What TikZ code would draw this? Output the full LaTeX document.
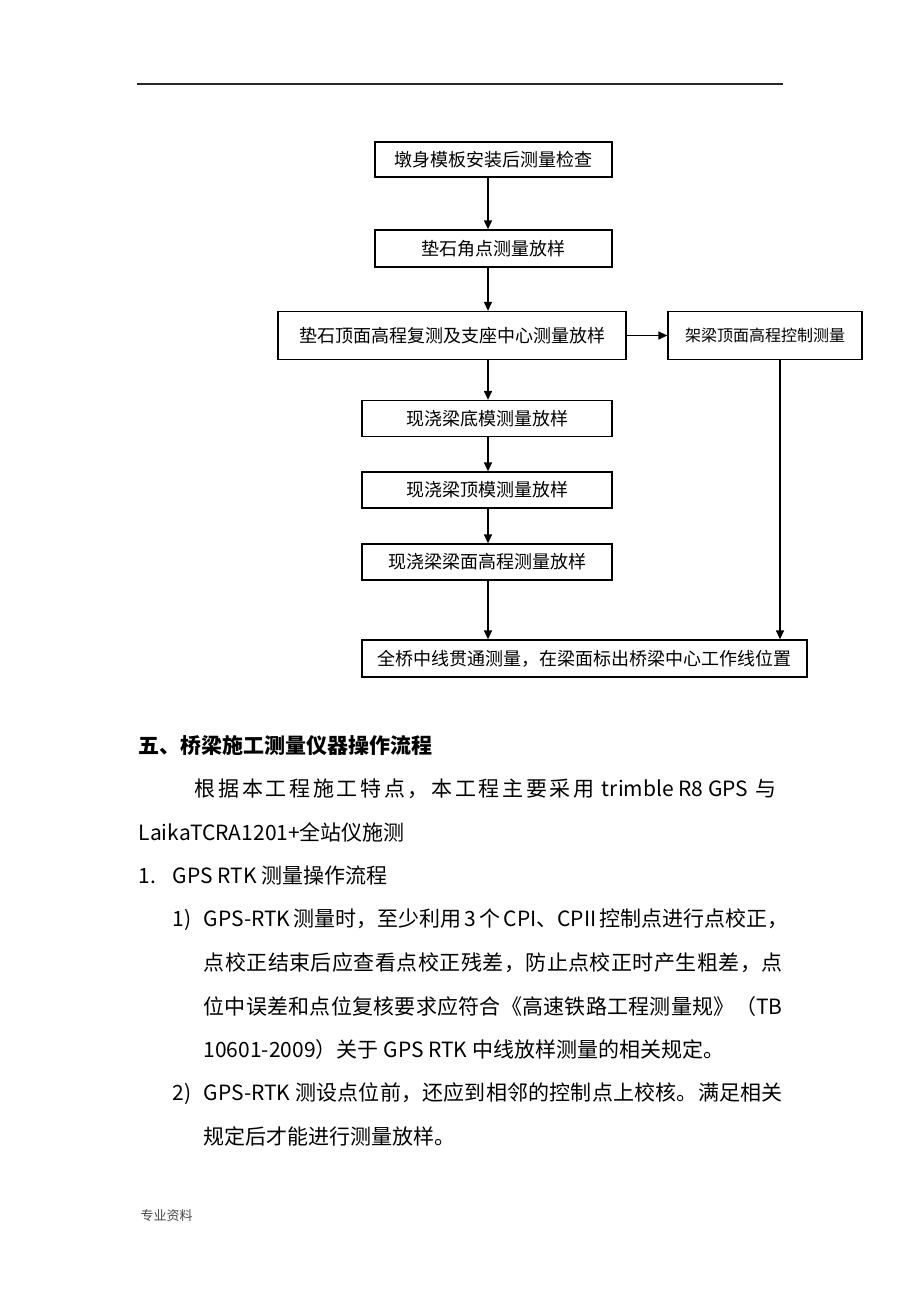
\documentclass[tikz,border=0pt]{standalone}
\usepackage{fontspec}
\setmainfont{Noto Sans CJK SC}
\usetikzlibrary{arrows.meta}
\definecolor{rule}{RGB}{40, 40, 40}
\definecolor{foot}{RGB}{70, 70, 70}
\makeatletter
\newcommand{\jline}[2]{\hbox to #1{\@tfor\jl@t:=#2\do{\jl@t\hfil}\unskip}}
\makeatother

\begin{document}
\begin{tikzpicture}[x=1pt, y=-1pt, line width=1.3pt,
  box/.style={draw, inner sep=0pt, font=\fontsize{18}{20}\selectfont},
  arr/.style={-{Triangle[length=9pt, width=8pt]}},
  body/.style={anchor=base west, inner sep=0pt, font=\fontsize{21}{24}\selectfont}]
  \useasboundingbox (0, 0) rectangle (920, 1302);

  % page rule
  \coordinate (rl) at (137, 84);
  \coordinate (rr) at (783, 84);
  \draw[rule, line width=1.5pt] (rl) -- (rr);

  % flow chart
  \node[box, minimum width=237pt, minimum height=35pt] (check) at (493.5, 159.5) {墩身模板安装后测量检查};
  \node[box, minimum width=237pt, minimum height=37pt] (corner) at (493.5, 248.5) {垫石角点测量放样};
  \node[box, minimum width=348pt, minimum height=48pt] (pad) at (452, 335.5) {垫石顶面高程复测及支座中心测量放样};
  \node[box, minimum width=194pt, minimum height=48pt, font=\fontsize{16}{18}\selectfont] (beam) at (765, 335.5) {架梁顶面高程控制测量};
  \node[box, minimum width=250pt, minimum height=36pt] (bottom) at (487, 418.5) {现浇梁底模测量放样};
  \node[box, minimum width=250pt, minimum height=36pt] (top) at (487, 490) {现浇梁顶模测量放样};
  \node[box, minimum width=250pt, minimum height=36pt] (face) at (487, 562) {现浇梁梁面高程测量放样};
  \node[box, minimum width=445pt, minimum height=37pt] (center) at (584.5, 658.5) {全桥中线贯通测量，在梁面标出桥梁中心工作线位置};

  \coordinate (spine) at (488, 0);
  \coordinate (side) at (780, 0);
  \draw[arr] (check.south -| spine) -- (corner.north -| spine);
  \draw[arr] (corner.south -| spine) -- (pad.north -| spine);
  \draw[arr] (pad.south -| spine) -- (bottom.north -| spine);
  \draw[arr] (bottom.south -| spine) -- (top.north -| spine);
  \draw[arr] (top.south -| spine) -- (face.north -| spine);
  \draw[arr] (face.south -| spine) -- (center.north -| spine);
  \draw[arr] (pad.east) -- (beam.west);
  \draw[arr] (beam.south -| side) -- (center.north -| side);

  % text below
  \node[body, font=\fontsize{21}{24}\selectfont\bfseries] (head) at (138, 753) {五、桥梁施工测量仪器操作流程};
  \node[body] (par1) at (194, 796) {\jline{582pt}{根据本工程施工特点，本工程主要采用{ trimble R8 GPS }与}};
  \node[body] (par2) at (138, 840) {LaikaTCRA1201+全站仪施测};
  \node[body] (num1) at (138, 883) {1.};
  \node[body] (sub1) at (172, 883) {GPS RTK 测量操作流程};
  \node[body] (itm1) at (172, 926) {1)};
  \node[body] (l1a) at (203, 926) {\jline{579pt}{{GPS-RTK }测量时，至少利用{ 3 }个{ CPI}、{CPII }控制点进行点校正，}};
  \node[body] (l1b) at (203, 970) {\jline{579pt}{点校正结束后应查看点校正残差，防止点校正时产生粗差，点}};
  \node[body] (l1c) at (203, 1014) {\jline{579pt}{位中误差和点位复核要求应符合《高速铁路工程测量规》（{TB}}};
  \node[body] (l1d) at (203, 1057) {10601-2009）关于 GPS RTK 中线放样测量的相关规定。};
  \node[body] (itm2) at (172, 1100) {2)};
  \node[body] (l2a) at (203, 1100) {\jline{579pt}{{GPS-RTK }测设点位前，还应到相邻的控制点上校核。满足相关}};
  \node[body] (l2b) at (203, 1144) {规定后才能进行测量放样。};

  % footer
  \node[body, foot, font=\fontsize{13}{15}\selectfont] (pagefoot) at (140, 1220) {专业资料};
\end{tikzpicture}
\end{document}
